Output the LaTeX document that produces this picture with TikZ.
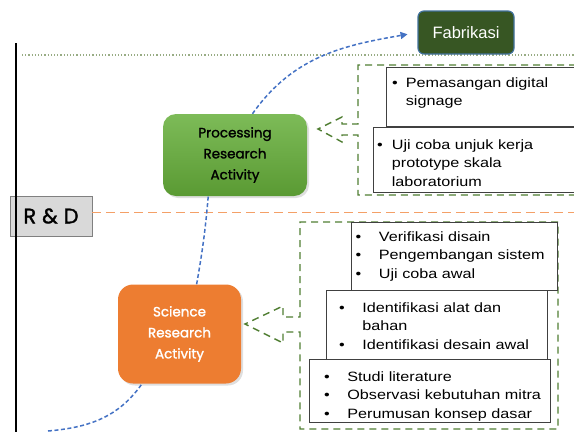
\documentclass[tikz,border=0pt]{standalone}
\usepackage{fontspec}
\setmainfont{Liberation Sans}
\newfontfamily\comicfont[FakeBold=1.5]{Poppins}
\newfontfamily\listfont[FakeStretch=1.2]{Liberation Sans}
\usetikzlibrary{positioning,arrows.meta,shadows}

\definecolor{flowblue}{HTML}{4472C4}
\definecolor{calloutgreen}{HTML}{507E32}
\definecolor{proctop}{HTML}{7DBB58}
\definecolor{procbot}{HTML}{5A9A33}
\definecolor{sciorange}{HTML}{ED7D31}
\definecolor{fabgreen}{HTML}{375623}
\definecolor{fabline}{HTML}{41719C}
\definecolor{rdgray}{HTML}{D9D9D9}
\definecolor{boxline}{HTML}{404040}
\definecolor{limitline}{HTML}{98AC84}
\definecolor{rdline}{HTML}{F4A067}

\newcommand{\bulletlist}[2]{\begin{tabular}[t]{@{}l@{\hspace{#1}}l@{}}#2\end{tabular}}

\begin{document}
\begin{tikzpicture}[x=1pt, y=-1pt,
  phase/.style={rectangle, rounded corners=13pt, align=center,
    font=\comicfont\fontsize{13.5}{21}\selectfont,
    drop shadow={opacity=0.25, shadow xshift=2pt, shadow yshift=-2pt}},
  itembox/.style={rectangle, draw=boxline, line width=0.8pt, fill=white, anchor=north west, inner sep=0pt},
  list/.style={anchor=base west, inner sep=0pt, font=\listfont\fontsize{13.5}{18.5}\selectfont},
  callout/.style={draw=calloutgreen, line width=1.4pt, dash pattern=on 7pt off 5pt},
  flow/.style={draw=flowblue, line width=1.5pt, dash pattern=on 4pt off 2.5pt}]
  \useasboundingbox (0,0) rectangle (574,432);

  % level lines
  \draw[limitline, line width=1.2pt, dotted] (22,55) -- (574,55);
  \node[rectangle, draw=gray, fill=rdgray, minimum width=82pt, minimum height=40pt,
    font=\comicfont\fontsize{21}{24}\selectfont] (rd) at (51,216) {R\hspace{6pt}\&\hspace{6pt}D};
  \draw[rdline, line width=1pt, dash pattern=on 9pt off 5pt] (rd.east |- 0,212) -- (574,212);
  \draw[black, line width=2.5pt] (16,43) -- (16,432);

  % callouts
  \draw[callout] (600,65) -- (358,65) -- (358,124) -- (342,124) -- (342,117) -- (318,129)
    -- (342,142) -- (342,135) -- (358,135) -- (358,195) -- (600,195);
  \draw[callout] (558,222) -- (300,222) -- (300,317) -- (283,317) -- (283,306) -- (245,324)
    -- (283,343) -- (283,332) -- (300,332) -- (300,429) -- (558,429) -- cycle;

  % upper boxes
  \node[itembox, minimum width=230pt, minimum height=59pt] (signage) at (386,67) {};
  \node[itembox, minimum width=240pt, minimum height=65pt] (labtest) at (373,127) {};
  \node[list] (signagetext) at (392,87) {\bulletlist{8pt}{\textbullet & Pemasangan digital\\ & signage}};
  \node[list] (labtesttext) at (377,149) {\bulletlist{9pt}{\textbullet & Uji coba unjuk kerja\\ & prototype skala\\ & laboratorium}};

  % lower boxes
  \node[itembox, minimum width=206pt, minimum height=68pt] (design) at (351,222) {};
  \node[itembox, minimum width=221pt, minimum height=69pt] (tools) at (326,290) {};
  \node[itembox, minimum width=241pt, minimum height=63pt] (study) at (309,359) {};
  \node[list] (designtext) at (355.5,241) {\bulletlist{17.5pt}{\textbullet & Verifikasi disain\\ \textbullet & Pengembangan sistem\\ \textbullet & Uji coba awal}};
  \node[list] (toolstext) at (339,312) {\bulletlist{17.5pt}{\textbullet & Identifikasi alat dan\\ & bahan\\ \textbullet & Identifikasi desain awal}};
  \node[list] (studytext) at (324,381) {\bulletlist{17.5pt}{\textbullet & Studi literature\\ \textbullet & Observasi kebutuhan mitra\\ \textbullet & Perumusan konsep dasar}};

  % phases
  \node[phase, top color=proctop, bottom color=procbot, minimum width=144pt, minimum height=82pt] (proc) at (235,155) {Processing\\Research\\Activity};
  \node[phase, fill=sciorange, text=white, rounded corners=15pt, minimum width=123pt, minimum height=99pt] (sci) at (179.5,334) {Science\\Research\\Activity};
  \node[rectangle, rounded corners=6pt, draw=fabline, line width=1.2pt, fill=fabgreen, text=white,
    minimum width=96pt, minimum height=43pt, font=\fontsize{16.5}{20}\selectfont] (fab) at (466,32.5) {Fabrikasi};

  % flow
  \coordinate (origin) at (48,431);
  \draw[flow] (origin) to[out=5, in=235] (sci.233);
  \draw[flow] (sci.71) to[out=80, in=265] (proc.237);
  \draw[flow, -{Triangle[length=7pt, width=7pt]}, shorten >=10pt] (proc.67) to[out=55, in=190] (fab.west);
\end{tikzpicture}
\end{document}
